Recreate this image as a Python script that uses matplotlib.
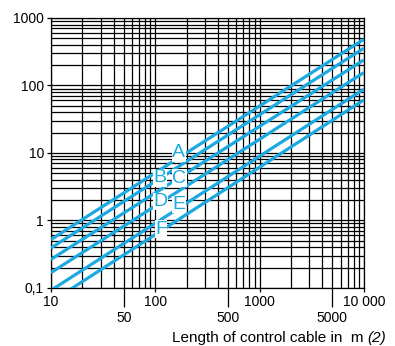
import matplotlib
matplotlib.use("Agg")
import matplotlib.pyplot as plt
from matplotlib.ticker import LogLocator, NullLocator, NullFormatter

plt.rcParams['font.family'] = ['Liberation Sans', 'DejaVu Sans']

# cable length (m) at both ends of each curve
length_ends = [10, 10000]
# value read at 10 m and at 10 000 m for every curve
curve_names = ['A', 'B', 'C', 'D', 'E', 'F']
curve_values = {
    'A': [0.52, 483],
    'B': [0.39, 356],
    'C': [0.264, 239],
    'D': [0.168, 155],
    'E': [0.092, 88],
    'F': [0.062, 61],
}
# where the letters sit on the chart (x, y in data units)
label_pos = {
    'A': (168, 10.0),
    'B': (112, 4.3),
    'C': (170, 4.2),
    'D': (112, 1.9),
    'E': (170, 1.72),
    'F': (114, 0.74),
}

x_major = [10, 100, 1000, 10000]
x_major_labels = ['10', '100', '1000', '10 000']
x_extra = [50, 500, 5000]
x_extra_labels = ['50', '500', '5000']
y_major = [0.1, 1, 10, 100, 1000]
y_major_labels = ['0,1', '1', '10', '100', '1000']

blue = '#1ca9e1'

fig = plt.figure(figsize=(3.95, 3.46), dpi=100)
ax = fig.add_axes([0.129, 0.168, 0.792, 0.780])
ax.set_xscale('log')
ax.set_yscale('log')
ax.set_xlim(10, 10000)
ax.set_ylim(0.1, 1000)

ax.xaxis.set_minor_locator(LogLocator(base=10, subs=range(2, 10)))
ax.yaxis.set_minor_locator(LogLocator(base=10, subs=range(2, 10)))
ax.xaxis.set_minor_formatter(NullFormatter())
ax.yaxis.set_minor_formatter(NullFormatter())
ax.grid(True, which='both', color='black', linewidth=0.9)
ax.set_axisbelow(True)
for s in ax.spines.values():
    s.set_color('black')
    s.set_linewidth(0.9)

ax.set_xticks(x_major)
ax.set_xticklabels(x_major_labels)
ax.set_yticks(y_major)
ax.set_yticklabels(y_major_labels)
ax.tick_params(which='major', length=3, width=0.9, pad=2, labelsize=10)
ax.tick_params(which='minor', length=0)

sec = ax.secondary_xaxis('bottom')
sec.set_xticks(x_extra)
sec.set_xticklabels(x_extra_labels)
sec.xaxis.set_minor_locator(NullLocator())
sec.tick_params(length=14, width=0.9, pad=3, labelsize=10)
sec.spines['bottom'].set_visible(False)

for name in curve_names:
    ax.plot(length_ends, curve_values[name], color=blue, linewidth=2.3,
            solid_capstyle='butt', zorder=3)
    lx, ly = label_pos[name]
    ax.text(lx, ly, name, color=blue, fontsize=14, ha='center', va='center',
            zorder=4, bbox=dict(facecolor='white', edgecolor='none', pad=0.3))

t2 = fig.text(386 / 395, 1 - 338 / 346, '(2)', fontsize=11, style='italic',
              ha='right', va='center')
ax.annotate('Length of control cable in  m ', xy=(0, 0.5), xycoords=t2,
            ha='right', va='center', fontsize=11)

fig.savefig('out.png', dpi=100)
